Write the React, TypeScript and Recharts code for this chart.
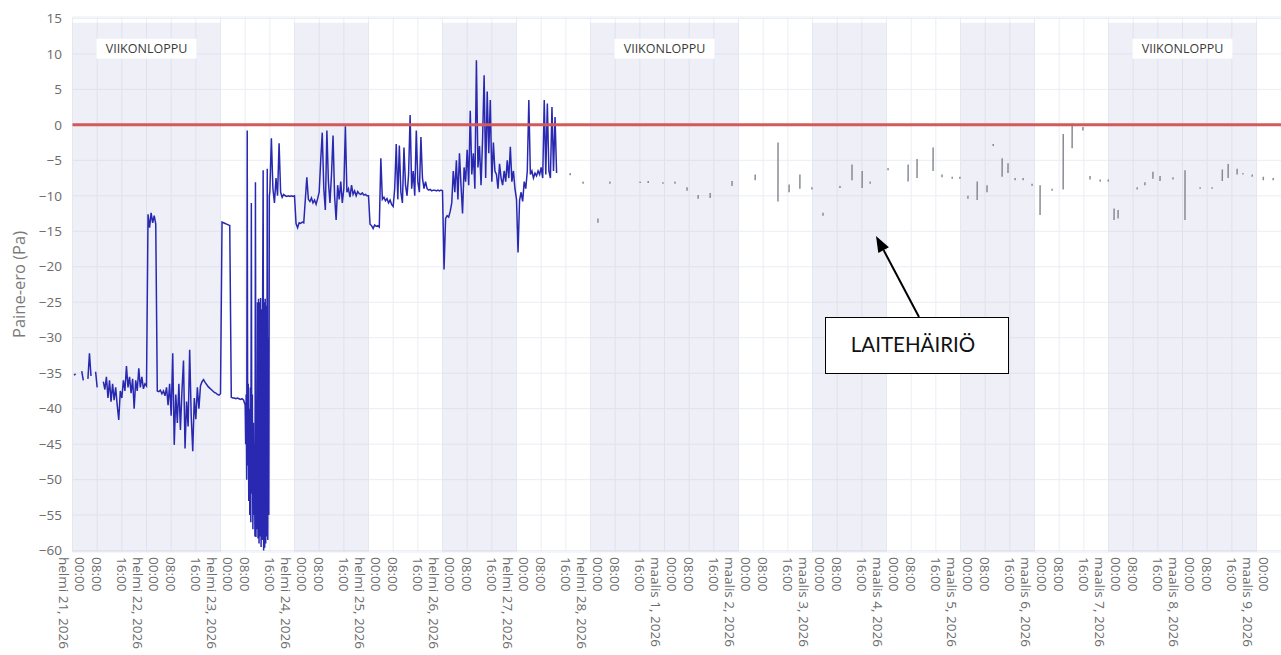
import {
  LineChart,
  Line,
  XAxis,
  YAxis,
  CartesianGrid,
  ReferenceArea,
  ReferenceLine,
} from "recharts";

// päivän nimet x-akselille (helmi 21 = päivä 0)
const dayLabels = [
  "helmi 21, 2026", "helmi 22, 2026", "helmi 23, 2026", "helmi 24, 2026",
  "helmi 25, 2026", "helmi 26, 2026", "helmi 27, 2026", "helmi 28, 2026",
  "maalis 1, 2026", "maalis 2, 2026", "maalis 3, 2026", "maalis 4, 2026",
  "maalis 5, 2026", "maalis 6, 2026", "maalis 7, 2026", "maalis 8, 2026",
  "maalis 9, 2026",
];
const hourLabels = ["00:00", "08:00", "16:00"];
const yTicks = [-60, -55, -50, -45, -40, -35, -30, -25, -20, -15, -10, -5, 0, 5, 10, 15];

// varjostetut päivät [alku, loppu] päivinä, ja viikonloput
const shadedDays: [number, number][] = [
  [0, 2], [3, 4], [5, 6], [7, 9], [10, 11], [12, 13], [14, 16],
];
const weekendBands = [0, 3, 6];

// paine-ero (Pa), 30 min välein
const feb21 = [
  null, -35.3, -35.1, null, null, null, -34.7, -36.0, null, null, -35.8, -32.2,
  -35.4, null, null, -34.8, -37.0, null, null, null, -36.2, -37.3, -35.5, -38.5,
  -36.0, -39.0, -36.5, -38.8, -37.0, -39.5, -41.6, -37.5, -38.5, -36.0, -37.5, -34.0,
  -37.0, -35.5, -37.8, -35.8, -40.0, -36.0, -37.5, -34.3, -37.0, -35.5, -37.2, -36.5,
];
const feb22 = [
  -36.8, -12.6, -14.5, -12.4, -13.8, -12.8, -14.0, -37.5, -37.6, -37.4, -37.9, -37.5,
  -38.2, -37.0, -39.5, -36.5, -41.0, -32.2, -45.1, -38.0, -42.0, -36.5, -43.0, -37.5,
  -33.2, -45.6, -39.0, -42.5, -31.7, -41.0, -46.0, -38.5, -41.5, -37.0, -40.0, -36.8,
  -36.2, -35.9, -36.3, -36.6, -36.9, -37.1, -37.3, -37.5, -37.7, -37.8, -38.0, -38.1,
];
const feb23Morning = [
  -37.9, -13.7, -13.8, -13.9, -14.0, -14.1, -14.2, -38.4,
  -38.5, -38.5, -38.6, -38.5, -38.6, -38.7, -38.6, -38.8,
];
// 10 min välein, klo 08:00-15:50
const feb23Drop = [
  -39.5, -45.0, -38.0, -50.0, -0.8, -48.0, -36.5, -53.0, -40.0, -55.0, -37.0, -56.0,
  -11.0, -52.0, -38.0, -57.0, -42.0, -55.0, -45.0, -58.0, -8.1, -58.1, -40.0, -57.0,
  -25.0, -58.3, -24.5, -59.0, -25.0, -58.0, -24.4, -59.5, -26.0, -58.5, -24.8, -6.4,
  -60.0, -25.0, -59.6, -24.5, -59.0, -25.5, -58.0, -6.2, -58.5, -30.0, -55.0, -10.0,
];
const feb23Evening = [
  -9.5, -1.9, -9.0, -11.0, -7.5, -10.0, -2.6, -9.5,
  -10.2, -9.8, -10.0, -10.1, -10.0, -10.1, -10.0, -10.1,
];
const feb24 = [
  -10.0, -13.9, -14.5, -13.8, -13.9, -13.7, -13.8, -10.6, -7.4, -10.5, -10.8, -10.3,
  -11.0, -10.6, -11.2, -10.4, -9.5, -5.0, -1.1, -9.0, -12.0, -0.8, -8.0, -11.0,
  -7.0, -1.5, -10.0, -13.4, -8.5, -10.5, -8.0, -11.0, -9.0, -0.2, -9.5, -9.0,
  -10.2, -8.5, -9.8, -9.3, -10.0, -9.4, -9.7, -9.8, -9.6, -9.9, -9.8, -10.0,
];
const feb25 = [
  -10.0, -14.0, -14.2, -14.6, -14.1, -14.3, -14.2, -14.4, -4.7, -10.5, -10.2, -10.7,
  -10.4, -11.0, -10.6, -11.2, -11.5, -9.0, -2.7, -10.5, -2.9, -9.5, -11.0, -3.2,
  -8.5, -10.0, -7.0, 1.4, -9.0, -6.5, -10.0, -0.8, -8.0, -9.5, -1.7, -7.5,
  -9.0, -8.0, -9.0, -9.2, -9.1, -9.3, -9.2, -9.2, -9.3, -9.2, -9.3, -9.2,
];
const feb26 = [
  -9.3, -20.4, -13.2, -12.8, -13.0, -12.2, -11.0, -6.5, -9.5, -5.0, -10.5, -4.0,
  -8.5, -12.5, -6.0, -8.0, -3.5, -8.5, 2.0, -7.0, -4.0, -9.0, 9.1, -6.0,
  -3.0, -8.5, -2.0, 7.0, -7.5, 4.7, -4.0, 3.5, -8.0, -2.5, -6.5, -7.0,
  -9.0, -5.5, -7.5, -8.5, -6.5, -8.0, -5.0, -7.5, -3.1, -8.0, -6.5, -9.0,
];
const feb27 = [
  -10.5, -18.0, -10.6, -9.5, -10.8, -8.0, -9.0, -6.5, 3.5, -7.0, -6.5, -7.5,
  -6.8, -7.2, -6.5, -7.0, -6.0, -7.5, 3.5, -7.0, 3.0, -6.5, -7.5, 2.5,
  -6.5, 1.1, -6.8,
];

// laitehäiriön aikaiset yksittäiset lukemat: [tunti alusta, min, max]
const faultReadings: [number, number, number][] = [
  [161.4, -7.1, -6.8], [165.6, -8.3, -8.0], [170.4, -13.8, -13.2], [174.3, -8.3, -8.0],
  [184.1, -8.2, -8.0], [186.7, -8.2, -7.9], [191.5, -8.3, -8.1], [195.4, -8.3, -8.0],
  [199.3, -9.3, -8.8], [202.9, -10.4, -9.9], [206.8, -10.3, -9.6], [213.9, -8.6, -7.9],
  [221.4, -7.8, -7.0], [228.8, -10.8, -2.5], [232.4, -9.5, -8.4], [235.9, -9.0, -7.0],
  [239.8, -9.1, -8.8], [243.4, -12.8, -12.4], [248.9, -8.9, -8.6], [252.8, -7.8, -5.6],
  [256.1, -8.9, -6.5], [258.7, -8.3, -8.0], [264.5, -6.4, -6.1], [271.0, -8.0, -5.6],
  [273.9, -7.5, -4.8], [279.1, -6.5, -3.2], [282.0, -7.4, -7.0], [285.3, -7.6, -7.3],
  [287.8, -7.6, -7.3], [290.4, -10.4, -10.0], [293.4, -10.6, -8.0], [296.6, -9.5, -8.5],
  [298.6, -3.0, -2.7], [301.5, -7.3, -4.7], [303.4, -6.8, -5.4], [305.7, -7.8, -7.5],
  [308.3, -7.8, -7.5], [311.2, -8.6, -8.3], [313.8, -12.7, -8.5], [317.7, -9.3, -9.0],
  [321.3, -9.1, -1.3], [324.2, -3.3, 0.2], [327.7, -0.8, -0.3], [330.0, -7.7, -7.2],
  [333.3, -8.0, -7.7], [335.9, -8.0, -7.7], [337.8, -13.4, -11.8], [339.1, -13.2, -12.0],
  [345.3, -9.1, -8.8], [347.8, -8.5, -8.1], [350.4, -7.6, -6.6], [352.7, -7.9, -7.2],
  [356.9, -7.7, -7.4], [360.8, -13.4, -6.4], [365.7, -9.0, -8.8], [369.6, -9.0, -8.8],
  [372.9, -7.9, -6.3], [374.8, -7.5, -5.5], [377.7, -7.0, -6.2], [379.6, -7.0, -6.8],
  [382.6, -7.3, -7.0], [386.2, -7.8, -7.3], [389.4, -7.8, -7.5],
];

const segments = [
  { start: 0, step: 0.5, values: feb21 },
  { start: 24, step: 0.5, values: feb22 },
  { start: 48, step: 0.5, values: feb23Morning },
  { start: 56, step: 1 / 6, values: feb23Drop },
  { start: 64, step: 0.5, values: feb23Evening },
  { start: 72, step: 0.5, values: feb24 },
  { start: 96, step: 0.5, values: feb25 },
  { start: 120, step: 0.5, values: feb26 },
  { start: 144, step: 0.5, values: feb27 },
];

type Row = { t: number; p?: number | null; q?: number | null };
const rows: Row[] = [];
segments.forEach((s) =>
  s.values.forEach((v, i) => rows.push({ t: s.start + i * s.step, p: v }))
);
faultReadings.forEach(([t, lo, hi]) => {
  rows.push({ t, q: lo }, { t: t + 0.02, q: hi }, { t: t + 0.04, q: null });
});
rows.sort((a, b) => a.t - b.t);

const X_MAX = 396;
const xTicks: number[] = [];
for (let h = 0; h <= 384; h += 8) xTicks.push(h);

const FONT = "'Open Sans', 'DejaVu Sans', sans-serif";
const TICK_COLOR = "#6b6b6b";

function XTick({ x, payload }: any) {
  const h = payload.value as number;
  const top = 557;
  const common = {
    fontSize: 13.5,
    fill: TICK_COLOR,
    fontFamily: FONT,
    dominantBaseline: "central" as const,
  };
  if (h % 24 === 0) {
    return (
      <g>
        <text transform={`translate(${x - 8.5},${top}) rotate(90)`} {...common}>
          {dayLabels[h / 24]}
        </text>
        <text transform={`translate(${x + 7.5},${top}) rotate(90)`} {...common}>
          {hourLabels[0]}
        </text>
      </g>
    );
  }
  return (
    <text transform={`translate(${x},${top}) rotate(90)`} {...common}>
      {hourLabels[(h % 24) / 8]}
    </text>
  );
}

function YTick({ y, payload }: any) {
  const v = payload.value as number;
  return (
    <text x={62} y={y} dy="0.35em" textAnchor="end" fontSize={13.5} fill={TICK_COLOR} fontFamily={FONT}>
      {v < 0 ? `\u2212${Math.abs(v)}` : `${v}`}
    </text>
  );
}

function WeekendLabel(props: any) {
  const vb = props.viewBox ?? props;
  const cx = vb.x + vb.width / 2;
  const cy = vb.y + 26;
  return (
    <g>
      <rect x={cx - 50} y={cy - 10} width={100} height={20} fill="#fff" />
      <text x={cx} y={cy} dy="0.35em" textAnchor="middle" fontSize={12.5} fill="#3a3a3a" fontFamily={FONT}>
        VIIKONLOPPU
      </text>
    </g>
  );
}

export default function App() {
  return (
    <div
      style={{
        position: "absolute",
        left: 0,
        top: 0,
        width: 1281,
        height: 655,
        overflow: "hidden",
        background: "#fff",
      }}
    >
      <LineChart
        width={1300}
        height={655}
        data={rows}
        margin={{ top: 17, right: 6.5, bottom: 0, left: 0 }}
      >
        <CartesianGrid stroke="#eaedf3" />
        {shadedDays.map(([a, b], i) => (
          <ReferenceArea
            key={i}
            x1={a * 24}
            x2={b * 24}
            y1={-60.2}
            y2={14.4}
            fill="#c8cbe4"
            fillOpacity={0.3}
            stroke="none"
            label={weekendBands.includes(i) ? <WeekendLabel /> : undefined}
          />
        ))}
        <XAxis
          type="number"
          dataKey="t"
          domain={[0, X_MAX]}
          ticks={xTicks}
          interval={0}
          height={103}
          axisLine={false}
          tickLine={false}
          allowDataOverflow
          tick={(p: any) => <XTick {...p} />}
        />
        <YAxis
          type="number"
          domain={[-60.2, 15.2]}
          ticks={yTicks}
          interval={0}
          width={72.5}
          axisLine={false}
          tickLine={false}
          allowDataOverflow
          tick={(p: any) => <YTick {...p} />}
        />
        <Line
          type="linear"
          dataKey="p"
          stroke="#2828b0"
          strokeWidth={1.5}
          dot={false}
          isAnimationActive={false}
        />
        <Line
          type="linear"
          dataKey="q"
          stroke="#8a8a96"
          strokeWidth={1.5}
          dot={false}
          isAnimationActive={false}
        />
        <ReferenceLine y={0} stroke="#d25a5a" strokeWidth={3} />
      </LineChart>
      <svg
        width={1281}
        height={655}
        style={{ position: "absolute", left: 0, top: 0, pointerEvents: "none" }}
      >
        <text
          x={18.5}
          y={284.5}
          transform="rotate(-90 18.5 284.5)"
          textAnchor="middle"
          dominantBaseline="central"
          fontSize={16.5}
          fill="#7a7a7a"
          fontFamily={FONT}
        >
          Paine-ero (Pa)
        </text>
        <line x1={919} y1={317} x2={883.6} y2={250.1} stroke="#000" strokeWidth={2} />
        <polygon points="876,236 888.9,247.3 878.3,252.9" fill="#000" />
        <rect x={825.5} y={317.5} width={183} height={56} fill="#fff" stroke="#000" strokeWidth={1} />
        <text
          x={913}
          y={352}
          textAnchor="middle"
          fontSize={20.5}
          fill="#111"
          fontFamily="Lato, 'Open Sans', sans-serif"
        >
          LAITEHÄIRIÖ
        </text>
      </svg>
    </div>
  );
}
